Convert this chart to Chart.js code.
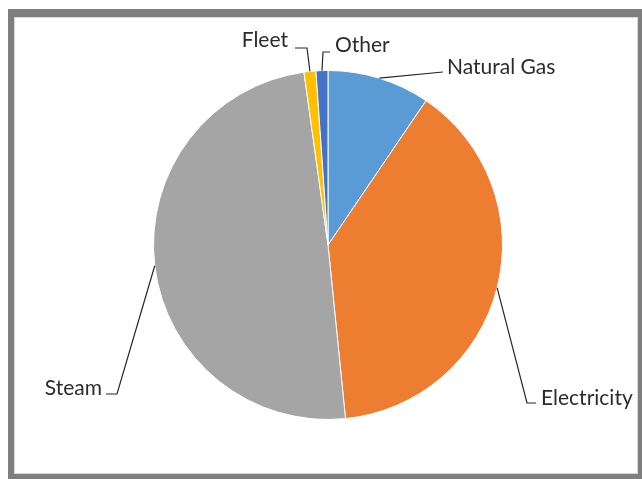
<!DOCTYPE html>
<html>
<head>
<meta charset="utf-8">
<script src="https://cdn.jsdelivr.net/npm/chart.js@4.4.1/dist/chart.umd.min.js"></script>
<style>
  html, body { margin: 0; padding: 0; background: #ffffff; }
  canvas { display: block; }
</style>
</head>
<body>
<canvas id="chart" width="642" height="479"></canvas>
<script>
// Energy use by source (share of total, %)
const categories = ['Natural Gas', 'Electricity', 'Steam', 'Fleet', 'Other'];
const shares = [9.5, 38.9, 49.4, 1.1, 1.1];
const sliceColors = ['#5B9BD5', '#ED7D31', '#A5A5A5', '#FFC000', '#4472C4'];

// Label placement relative to the pie centre (px): elbow of the leader line,
// end of its horizontal run, and the text anchor.
const labelLayout = {
  'Natural Gas': { elbow: [115, -173], end: [115, -173], text: [119, -171], align: 'left' },
  'Electricity': { elbow: [199, 158], end: [208, 158], text: [213, 160], align: 'left' },
  'Steam':       { elbow: [-211, 149], end: [-222, 149], text: [-226, 150], align: 'right' },
  'Fleet':       { elbow: [-21, -197], end: [-33, -197], text: [-40, -198], align: 'right' },
  'Other':       { elbow: [-5, -193], end: [2, -193], text: [7, -193], align: 'left' }
};

// Grey picture frame behind the chart
const framePlugin = {
  id: 'frame',
  beforeDraw(chart) {
    const ctx = chart.ctx;
    ctx.save();
    ctx.fillStyle = '#ffffff';
    ctx.fillRect(0, 0, chart.width, chart.height);
    ctx.fillStyle = '#7f7f7f';
    ctx.fillRect(8, 9, chart.width - 8, chart.height - 9);
    ctx.fillStyle = '#ffffff';
    ctx.fillRect(15, 18, 622, 455);
    ctx.strokeStyle = '#d9d9d9';
    ctx.lineWidth = 1;
    ctx.strokeRect(14.5, 17.5, 623, 456);
    ctx.restore();
  }
};

// Outside labels with elbow leader lines from each slice's mid-angle
const leaderLabels = {
  id: 'leaderLabels',
  afterDatasetsDraw(chart) {
    const ctx = chart.ctx;
    const meta = chart.getDatasetMeta(0);
    ctx.save();
    ctx.font = '21px Lato, "Open Sans", sans-serif';
    ctx.fillStyle = '#2b2b2b';
    ctx.strokeStyle = '#262626';
    ctx.lineWidth = 1.2;
    ctx.textBaseline = 'alphabetic';
    meta.data.forEach((arc, i) => {
      const name = chart.data.labels[i];
      const lay = labelLayout[name];
      if (!lay) return;
      const p = arc.getProps(['x', 'y', 'startAngle', 'endAngle', 'outerRadius'], true);
      const mid = (p.startAngle + p.endAngle) / 2;
      const sx = p.x + Math.cos(mid) * p.outerRadius;
      const sy = p.y + Math.sin(mid) * p.outerRadius;
      ctx.beginPath();
      ctx.moveTo(sx, sy);
      ctx.lineTo(p.x + lay.elbow[0], p.y + lay.elbow[1]);
      ctx.lineTo(p.x + lay.end[0], p.y + lay.end[1]);
      ctx.stroke();
      ctx.textAlign = lay.align;
      ctx.fillText(name, p.x + lay.text[0], p.y + lay.text[1]);
    });
    ctx.restore();
  }
};

new Chart(document.getElementById('chart'), {
  type: 'pie',
  data: {
    labels: categories,
    datasets: [{
      data: shares,
      backgroundColor: sliceColors,
      borderColor: '#ffffff',
      borderWidth: 1
    }]
  },
  options: {
    responsive: false,
    animation: false,
    devicePixelRatio: 1,
    layout: { padding: { left: 153, right: 139, top: 70, bottom: 59 } },
    plugins: {
      legend: { display: false },
      tooltip: { enabled: false }
    }
  },
  plugins: [framePlugin, leaderLabels]
});
</script>
</body>
</html>
